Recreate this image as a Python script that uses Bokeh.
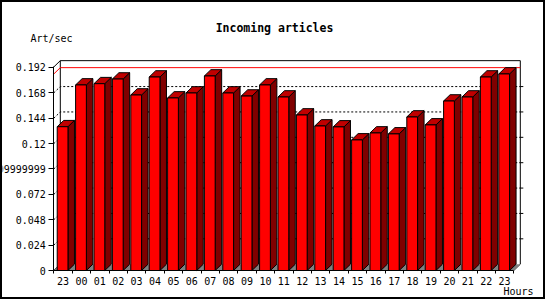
from bokeh.plotting import figure
from bokeh.models import FixedTicker, Range1d, Label, ColumnDataSource
from bokeh.embed import file_html
from bokeh.resources import INLINE

# ---------------- data ----------------
hours = ["23", "00", "01", "02", "03", "04", "05", "06", "07", "08", "09", "10",
         "11", "12", "13", "14", "15", "16", "17", "18", "19", "20", "21", "22", "23"]
rates = [0.136, 0.1755, 0.1767, 0.1811, 0.166, 0.183, 0.1632, 0.1679, 0.184,
         0.1679, 0.165, 0.1755, 0.1641, 0.1471, 0.1367, 0.1358, 0.1235, 0.1301,
         0.1292, 0.1452, 0.1377, 0.1603, 0.1641, 0.183, 0.1859]
y_ticks = [0.0, 0.024, 0.048, 0.072, 0.096, 0.12, 0.144, 0.168, 0.192]
y_tick_labels = ["0", "0.024", "0.048", "0.072", "0.09599999999999999",
                 "0.12", "0.144", "0.168", "0.192"]
title_text = "Incoming articles"
y_title = "Art/sec"
x_title = "Hours"

# ---------------- geometry (pixels of the picture) ----------------
FONT = "DejaVu Sans Mono"
OFF = 2                       # canvas offset inside the css border
W, H = 545, 299               # canvas size
AX_X, AX_Y = 53.3, 270.0      # front axes corner (window px)
PX_X = 18.4                   # pixels per hour slot
PX_Y = 1057.3                 # pixels per art/sec unit
X_START = (OFF - AX_X) / PX_X
X_END = (OFF + W - AX_X) / PX_X
Y_START = (AX_Y - (OFF + H)) / PX_Y
Y_END = (AX_Y - OFF) / PX_Y
DX = 6.5 / PX_X               # depth offset in x (data units)
DY = 6.3 / PX_Y               # depth offset in y (data units)
Y_AXIS_TOP = 0.1925
A, B = 0.185, 0.77            # bar front face within slot
n = len(hours)

def wx(px):  # window pixel x -> data x
    return (px - AX_X) / PX_X

def wy(py):  # window pixel y -> data y
    return (AX_Y - py) / PX_Y

p = figure(width=W, height=H, x_range=Range1d(X_START, X_END), y_range=Range1d(Y_START, Y_END),
           output_backend="svg", toolbar_location=None, title=None)
p.min_border = 0
p.min_border_left = 0
p.min_border_right = 0
p.min_border_top = 0
p.min_border_bottom = 0
p.styles = {"border": "2px solid black"}
p.outline_line_color = None
p.xgrid.visible = False
p.ygrid.visible = False
p.background_fill_color = "white"
p.border_fill_color = "white"

# back wall
back_top = Y_AXIS_TOP + DY
p.multi_line(xs=[[DX, DX, n + DX, n + DX], [0, DX], [0, DX], [n, n + DX]],
             ys=[[DY, back_top, back_top, DY], [Y_AXIS_TOP, back_top], [0, DY], [0, DY]],
             line_color="black", line_width=1)

# dotted grid on back wall + diagonals
grid_vals = [t for t in y_ticks if 0 < t < 0.19]
p.multi_line(xs=[[0, DX, n + DX] for t in grid_vals],
             ys=[[t, t + DY, t + DY] for t in grid_vals],
             line_color="black", line_width=1, line_dash="2 2")
# right ticks on back wall
p.segment(x0=[n + DX] * len(grid_vals), x1=[n + DX + 3 / PX_X] * len(grid_vals),
          y0=[t + DY for t in grid_vals], y1=[t + DY for t in grid_vals],
          line_color="black", line_width=1)

# max line
m = max(rates)
p.line(x=[0, DX, n + DX], y=[m, m + DY, m + DY], line_color="red", line_width=1)

# floor
p.patch(x=[0, n, n + DX, DX], y=[0, 0, DY, DY], fill_color="#808080", line_color=None)

# bars
lefts = [i + A for i in range(n)]
rights = [i + B for i in range(n)]
tops_x = [[l, r, r + DX, l + DX] for l, r in zip(lefts, rights)]
tops_y = [[v, v, v + DY, v + DY] for v in rates]
sides_x = [[r, r + DX, r + DX, r] for r in rights]
sides_y = [[0, DY, v + DY, v] for v in rates]
p.patches(xs=sides_x, ys=sides_y, fill_color="#800000", line_color="black", line_width=1)
p.patches(xs=tops_x, ys=tops_y, fill_color="#C00000", line_color="black", line_width=1)
src = ColumnDataSource(dict(left=lefts, right=rights, top=rates, bottom=[0] * n))
p.quad(left="left", right="right", top="top", bottom="bottom", source=src,
       fill_color="#FF0000", line_color="black", line_width=1)

# axes (drawn at the front corner, inside the canvas)
xa = p.xaxis[0]
xa.fixed_location = 0
xa.ticker = FixedTicker(ticks=[i + 0.5 for i in range(n)], minor_ticks=list(range(n + 1)))
xa.major_label_overrides = {i + 0.5: h for i, h in enumerate(hours)}
xa.major_tick_out = 0
xa.major_tick_in = 0
xa.major_tick_line_color = None
xa.minor_tick_out = 3
xa.minor_tick_in = 0
xa.minor_tick_line_color = "black"
xa.major_label_standoff = 3
xa.bounds = (0, n)
xa.axis_line_color = "black"
xa.major_label_text_font = FONT
xa.major_label_text_font_size = "10px"
xa.major_label_text_color = "black"

ya = p.yaxis[0]
ya.fixed_location = 0
ya.ticker = FixedTicker(ticks=y_ticks, minor_ticks=[])
ya.major_label_overrides = {t: lab for t, lab in zip(y_ticks, y_tick_labels)}
ya.major_tick_out = 5
ya.major_tick_in = 0
ya.minor_tick_out = 0
ya.minor_tick_in = 0
ya.major_label_standoff = 3
ya.bounds = (0, Y_AXIS_TOP)
ya.axis_line_color = "black"
ya.major_label_text_font = FONT
ya.major_label_text_font_size = "10px"
ya.major_label_text_color = "black"

# titles
p.add_layout(Label(x=wx(274), y=wy(27), text=title_text, text_align="center",
                   text_baseline="middle", text_font=FONT, text_font_size="11.5px",
                   text_font_style="bold", text_color="black"))
p.add_layout(Label(x=wx(30), y=wy(37.5), text=y_title,
                   text_align="left", text_baseline="middle", text_font=FONT,
                   text_font_size="10px", text_color="black"))
p.add_layout(Label(x=wx(533), y=wy(291), text=x_title,
                   text_align="right", text_baseline="middle", text_font=FONT,
                   text_font_size="10px", text_color="black"))

open("out.html", "w").write(file_html(p, INLINE))
